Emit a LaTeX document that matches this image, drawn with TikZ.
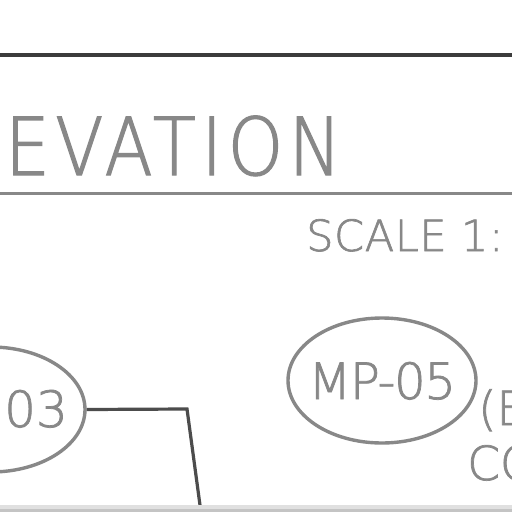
\documentclass[tikz,border=0pt]{standalone}
\usepackage{fontspec}
\setmainfont{DejaVu Sans ExtraLight}
\usetikzlibrary{shapes.geometric}
\definecolor{txtgray}{HTML}{888888}
\definecolor{darkline}{HTML}{3C3C3C}
\definecolor{leader}{HTML}{4C4C4C}
\definecolor{bandA}{HTML}{E0E0E0}
\definecolor{bandB}{HTML}{C4C4C4}
\tikzset{
  cadtext/.style={text=txtgray, inner sep=0pt, anchor=base west},
  tag/.style={ellipse, draw=txtgray, line width=3.4pt, inner sep=0pt,
              minimum width=188pt, minimum height=125pt},
  leaderline/.style={draw=leader, line width=3.2pt},
}
\begin{document}
\begin{tikzpicture}[x=1pt,y=-1pt]
\useasboundingbox (0,0) rectangle (512,512);
\fill[white] (0,0) rectangle (512,512);
% top heavy rule
\draw[darkline, line width=4pt] (0,55.3) -- (512,55.3);
% title
\node[cadtext, font=\fontsize{80}{80}\selectfont\addfontfeatures{FakeStretch=0.88,LetterSpace=7,FakeBold=1.5}] (title) at (5,175) {EVATION};
\draw[txtgray, line width=3pt] (0,193) -- (512,193);
\node[cadtext, font=\fontsize{43}{43}\selectfont\addfontfeatures{LetterSpace=1.5,FakeBold=1.5}] (scale) at (306,251) {SCALE 1:};
% tags
\node[tag] (mp03) at (-9,409.5) {};
\node[cadtext, font=\fontsize{50}{50}\selectfont\addfontfeatures{FakeBold=1.5}] (t03) at (4,427) {03};
\node[tag] (mp05) at (382,380.5) {};
\node[cadtext, font=\fontsize{50}{50}\selectfont\addfontfeatures{LetterSpace=-3,FakeBold=1.5}] (t05) at (308,399) {MP-05};
\node[cadtext, font=\fontsize{47}{47}\selectfont\addfontfeatures{FakeBold=1.5}] (note1) at (478,425) {(E};
\node[cadtext, font=\fontsize{47}{47}\selectfont\addfontfeatures{FakeBold=1.5}] (note2) at (467,480) {CO};
% leader
\coordinate (bend) at (187,409);
\coordinate (lend) at (202,520);
\draw[leaderline] (mp03.east) -- (bend) -- (lend);
% bottom band
\fill[bandA] (0,504.5) rectangle (512,508.5);
\fill[bandB] (0,508.5) rectangle (512,512);
\end{tikzpicture}
\end{document}
